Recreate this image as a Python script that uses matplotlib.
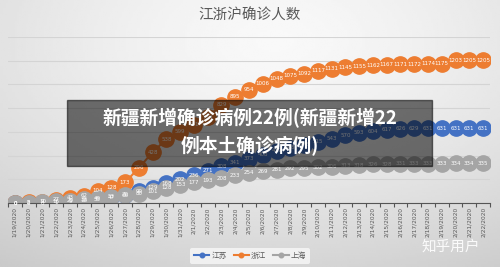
import matplotlib.pyplot as plt
import numpy as np
import pandas as pd

plt.rcParams['font.family'] = ['Noto Sans CJK SC', 'DejaVu Sans']

dates = [d.strftime('%-m/%-d/%Y') for d in pd.date_range('2020-01-19', '2020-02-22')]

jiangsu = [0, 0, 0, 1, 9, 18, 33, 47, 70, 99, 129, 168, 202, 236, 271, 308, 341, 373,
           408, 439, 468, 492, 515, 543, 570, 593, 604, 617, 626, 629, 631, 631, 631, 631, 631]
zhejiang = [0, 5, 10, 27, 43, 62, 104, 128, 173, 296, 428, 538, 599, 661, 724, 829, 895, 954,
            1006, 1048, 1075, 1092, 1117, 1131, 1145, 1155, 1162, 1167, 1171, 1172, 1174, 1175,
            1203, 1205, 1205]
shanghai = [0, 2, 9, 16, 20, 33, 40, 53, 66, 80, 101, 128, 153, 177, 193, 208, 233, 254,
            269, 281, 292, 295, 302, 306, 313, 318, 326, 328, 331, 333, 333, 333, 334, 334, 335]

series = [("江苏", jiangsu, "#4472C4"), ("浙江", zhejiang, "#ED7D31"), ("上海", shanghai, "#A5A5A5")]

fig = plt.figure(figsize=(5, 2.67), dpi=100)

# background gradient
bg = fig.add_axes([0, 0, 1, 1], zorder=-10)
yy, xx = np.mgrid[0:1:120j, 0:1:220j]
r = np.sqrt(((xx - 0.55) / 1.0) ** 2 + ((yy - 0.15) / 1.1) ** 2)
shade = 0.975 - 0.2 * np.clip(r, 0, 1) ** 1.4
bg.imshow(shade, cmap='gray', vmin=0, vmax=1, aspect='auto', extent=[0, 1, 1, 0])
bg.axis('off')

ax = fig.add_axes([0.016, 0.2397, 0.964, 0.6217])
ax.patch.set_alpha(0)
x = np.arange(len(dates))

lines = []
for name, vals, color in series:
    ln, = ax.plot(x, vals, color=color, lw=1.5, marker='o', ms=11, mec=color, mfc=color, label=name)
    lines.append(ln)

for name, vals, color in series:
    for xi, v in zip(x, vals):
        ax.text(xi, v, str(v), color='white', fontsize=4, ha='center', va='center',
                family='DejaVu Sans')

ax.set_xlim(-0.5, len(dates) - 0.5)
ax.set_ylim(0, 1400)
ax.set_yticks(np.arange(0, 1401, 200))
ax.yaxis.grid(True, color='#d4d4d4', lw=0.8)
ax.set_axisbelow(True)
ax.tick_params(axis='y', left=False, labelleft=False)
for s in ['top', 'right', 'left']:
    ax.spines[s].set_visible(False)
ax.spines['bottom'].set_color('#555555')
ax.spines['bottom'].set_linewidth(0.8)

ax.set_xticks(x)
ax.set_xticklabels(dates, rotation=90, fontsize=4.2, color='#595959', family='DejaVu Sans')
ax.set_xticks(np.arange(-0.5, len(dates)), minor=True)
ax.tick_params(axis='x', which='major', length=0, pad=3)
ax.tick_params(axis='x', which='minor', length=3, color='#555555', width=0.8)

fig.text(0.5, 0.94, "江浙沪确诊人数", ha='center', va='center', fontsize=10.5, color='#595959')

leg = fig.legend(handles=lines, loc='center', bbox_to_anchor=(0.5, 1 - 256 / 267), ncol=3,
                 fontsize=5.5, frameon=True, facecolor='#f4f4f4', edgecolor='none',
                 framealpha=0.9, handlelength=2, handletextpad=0.3, columnspacing=0.9,
                 markerscale=0.3, borderpad=0.5)
for t in leg.get_texts():
    t.set_color('#595959')

# overlay caption box and watermark
fig.patches.append(plt.Rectangle((67 / 500, 1 - 166 / 267), 365 / 500, 66 / 267,
                                 transform=fig.transFigure, color='black', alpha=0.55,
                                 zorder=20))
fig.text(0.5, 1 - 118 / 267, "新疆新增确诊病例22例(新疆新增22", ha='center', va='center',
         fontsize=13.5, color='white', fontweight='bold', zorder=21)
fig.text(0.5, 1 - 146 / 267, "例本土确诊病例)", ha='center', va='center',
         fontsize=13.5, color='white', fontweight='bold', zorder=21)
fig.text(0.902, 1 - 247 / 267, "知乎用户", ha='center', va='center', fontsize=10.5,
         color='white', alpha=0.9, zorder=21)

fig.savefig('out.png', dpi=100)
